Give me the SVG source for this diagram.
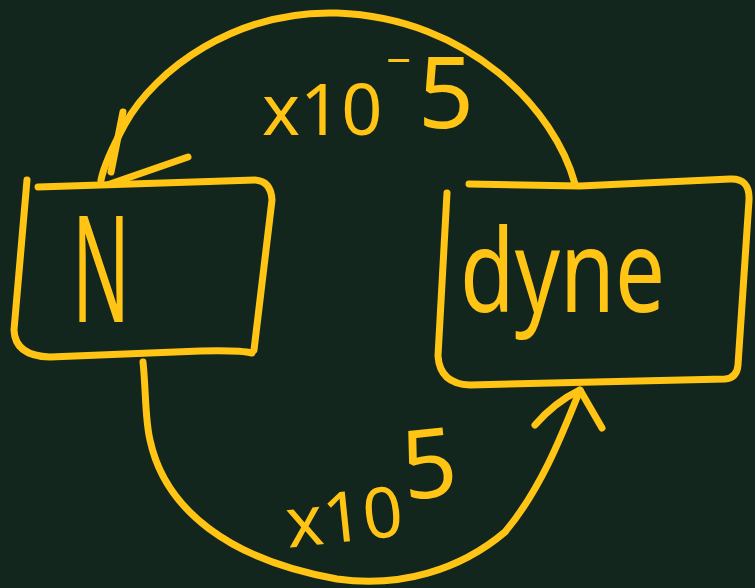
<svg xmlns="http://www.w3.org/2000/svg" width="755" height="588" viewBox="0 0 755 588">
<style>
.s{fill:none;stroke:#FFC414;stroke-width:7;stroke-linecap:round;stroke-linejoin:round}
.t{fill:#FFC414;font-family:"Noto Sans","DejaVu Sans",sans-serif}
</style>
<rect width="755" height="588" fill="#12261E"/>
<g id="node-N">
<path class="s" d="M38,187 L255,180 Q271,181 272,200 L254,350"/>
<path class="s" d="M27,180 L14,330 Q15,356 50,357 L200,351 Q240,350 252,353"/>
<text class="t" x="72" y="322" font-size="148" textLength="58" lengthAdjust="spacingAndGlyphs">N</text>
</g>
<g id="node-dyne">
<path class="s" d="M447,193 L438,356 Q440,384 470,385 L725,379 Q737,378 738,365 L749,200 Q750,178 730,179 L580,186 L469,184"/>
<text class="t" x="460" y="312" font-size="116" textLength="205" lengthAdjust="spacingAndGlyphs">dyne</text>
</g>
<g id="connectors">
<path class="s" d="M575,184 C555,110 470,18 337,13 C235,10 155,70 125,124 C112,148 104,165 101,180"/>
<path class="s" d="M123,112 L111,172 M188,157 L110,184"/>
<path class="s" d="M143,362 C146,390 145,420 150,440 C165,510 230,560 337,579 C400,588 460,570 505,532 C540,490 560,440 580,390"/>
<path class="s" d="M535,425 Q555,402 580,390 L602,428"/>
<text class="t" x="262" y="135" font-size="72">x10<tspan x="386" y="76" font-size="44">−</tspan><tspan x="418" y="128" font-size="98">5</tspan></text>
<text class="t" transform="rotate(-6 360 510)" x="285" y="540" font-size="70">x10<tspan x="406" y="505" font-size="96">5</tspan></text>
</g>
</svg>
